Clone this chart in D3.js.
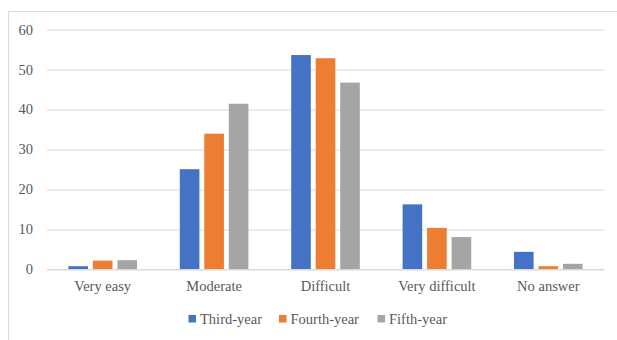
<!DOCTYPE html>
<html>
<head>
<meta charset="utf-8">
<script src="https://cdn.jsdelivr.net/npm/d3@7"></script>
<style>
  body { margin: 0; background: #fff; }
</style>
</head>
<body>
<svg class="chart" width="617" height="340"></svg>
<script>
// data
var categories = ["Very easy", "Moderate", "Difficult", "Very difficult", "No answer"];
var seriesNames = ["Third-year", "Fourth-year", "Fifth-year"];
var thirdYear = [0.7, 25.0, 53.6, 16.2, 4.3];
var fourthYear = [2.1, 33.9, 52.8, 10.3, 0.7];
var fifthYear = [2.2, 41.4, 46.7, 8.0, 1.3];
var yTicks = [0, 10, 20, 30, 40, 50, 60];
var colors = ["#4472C4", "#ED7D31", "#A5A5A5"];

var seriesValues = [thirdYear, fourthYear, fifthYear];
var FONT = "'Liberation Serif', 'Times New Roman', Times, serif";

var margin = { top: 29.5, right: 13, bottom: 71, left: 47 },
    width = 617 - margin.left - margin.right,
    height = 340 - margin.top - margin.bottom;

var svg = d3.select(".chart");

// outer chart frame (runs off the right/bottom edge)
svg.append("rect")
    .attr("x", 8.5).attr("y", 11.5)
    .attr("width", 640).attr("height", 360)
    .attr("fill", "none")
    .attr("stroke", "#d9d9d9");

var g = svg.append("g")
    .attr("transform", "translate(" + margin.left + "," + margin.top + ")");

var x0 = d3.scaleBand().domain(categories).range([0, width]).padding(0);
var bw = x0.bandwidth();
var x1 = d3.scaleBand().domain(seriesNames)
    .range([bw * 0.192, bw * 0.808])
    .paddingInner(0.2);
var yScale = d3.scaleLinear().domain([0, 60]).range([height, 0]);

// gridlines
g.selectAll("line.grid")
    .data(yTicks).enter()
    .append("line")
    .attr("class", "grid")
    .attr("x1", 0).attr("x2", width)
    .attr("y1", function (d) { return Math.round(yScale(d)) + 0.5; })
    .attr("y2", function (d) { return Math.round(yScale(d)) + 0.5; })
    .attr("stroke", "#d9d9d9")
    .attr("stroke-width", 1);

// y axis labels
var yAxis = d3.axisLeft(yScale).tickValues(yTicks).tickSize(0).tickPadding(14);
var ya = g.append("g").call(yAxis).attr("font-family", null);
ya.select(".domain").remove();
ya.selectAll("text")
    .style("font-family", FONT)
    .style("font-size", "14.5px")
    .attr("fill", "#595959");

// bars
var groups = g.selectAll("g.cat")
    .data(categories).enter()
    .append("g")
    .attr("class", "cat")
    .attr("transform", function (d) { return "translate(" + x0(d) + ",0)"; });

groups.selectAll("rect")
    .data(function (d, i) {
        return seriesNames.map(function (s, j) {
            return { series: s, value: seriesValues[j][i], idx: j };
        });
    }).enter()
    .append("rect")
    .attr("x", function (d) { return x1(d.series); })
    .attr("y", function (d) { return yScale(d.value); })
    .attr("width", x1.bandwidth())
    .attr("height", function (d) { return height - yScale(d.value); })
    .attr("fill", function (d) { return colors[d.idx]; });

// x axis
var xAxis = d3.axisBottom(x0).tickSize(0).tickPadding(12);
var xa = g.append("g")
    .attr("transform", "translate(0," + height + ")")
    .call(xAxis).attr("font-family", null);
xa.select(".domain").attr("stroke", "#d9d9d9");
xa.selectAll("text")
    .style("font-family", FONT)
    .style("font-size", "14.5px")
    .attr("fill", "#595959");

// legend
var legendX = [188.5, 279, 377.5];
var legend = svg.append("g");
var items = legend.selectAll("g")
    .data(seriesNames).enter()
    .append("g")
    .attr("transform", function (d, i) { return "translate(" + legendX[i] + ",315)"; });
items.append("rect")
    .attr("width", 7.5).attr("height", 7.5)
    .attr("fill", function (d, i) { return colors[i]; });
items.append("text")
    .attr("x", 11.5).attr("y", 9)
    .style("font-family", FONT)
    .style("font-size", "14.5px")
    .attr("fill", "#595959")
    .text(function (d) { return d; });
</script>
</body>
</html>
